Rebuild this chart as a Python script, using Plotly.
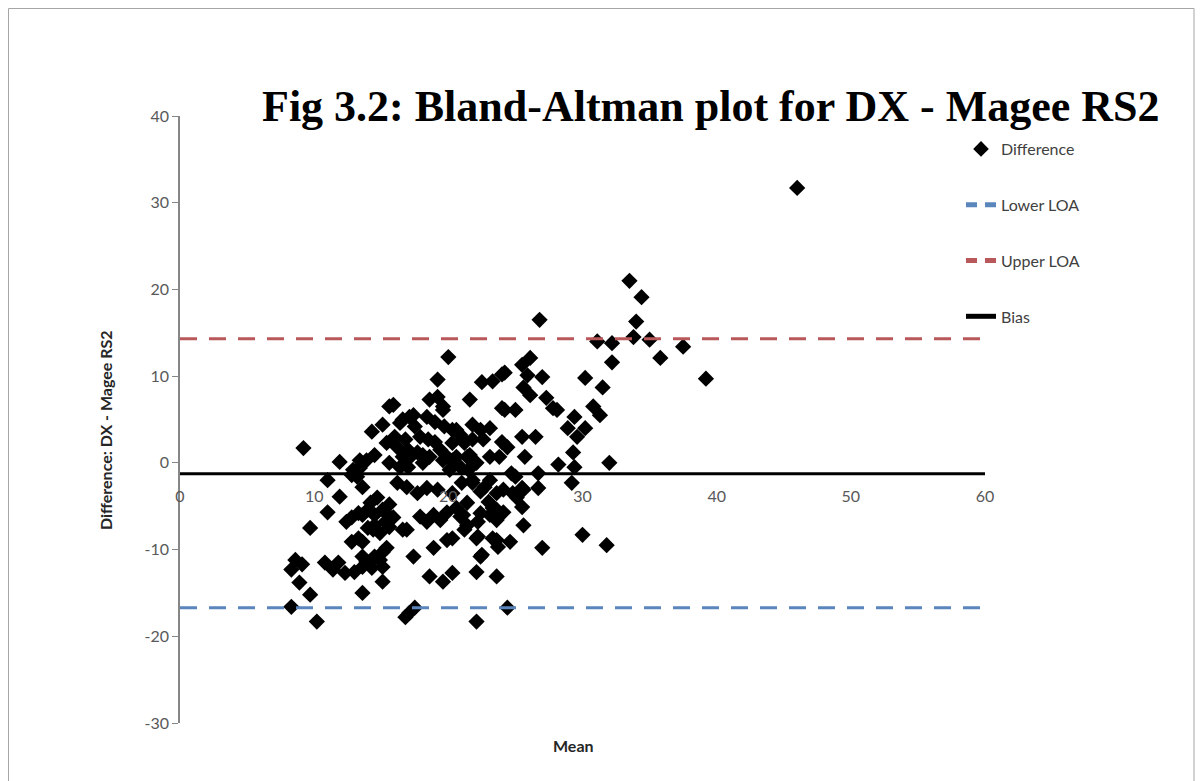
import plotly.graph_objects as go

# Bland-Altman data
mean_vals = [
    46.0, 33.5, 34.4, 34.0, 33.8, 35.0, 35.8, 37.5, 39.2, 31.1, 32.2, 32.2, 26.8, 26.1, 25.5, 25.9,
    27.0, 30.2, 31.5, 25.6, 26.1, 27.3, 27.8, 30.8, 31.3, 25.0, 29.4, 28.9, 30.2, 29.6, 25.5, 26.5,
    29.3, 25.7, 28.2, 29.4, 32.0, 26.7, 29.2, 25.0, 26.7, 25.5, 24.4, 24.2, 24.2, 25.5, 25.6, 24.6,
    27.0, 30.0, 31.8, 24.4,
    22.5, 23.3, 24.0, 21.6, 24.0, 28.1, 21.8, 23.1, 22.6, 24.0, 21.4, 24.7, 21.8, 23.1, 22.4, 23.6,
    24.8, 25.6, 21.4, 23.0, 23.6, 25.1, 20.9, 22.4, 23.6, 21.2, 22.1, 23.3, 22.4, 22.1, 23.6,
    20.0, 19.2, 15.9, 18.6, 19.2, 19.6, 17.1, 16.4, 17.5, 18.4, 19.0, 19.7, 20.3, 22.4, 16.0, 16.8,
    17.9, 18.5, 19.0, 19.4, 20.3, 20.9, 21.2, 21.8, 16.2, 17.0, 17.1, 18.1, 18.1, 19.9, 20.3, 20.9,
    20.1, 21.6, 22.1, 21.5, 23.1, 23.8, 15.6, 16.4, 17.0, 16.2, 16.9, 17.7, 18.4, 19.2, 20.3, 21.0,
    21.8, 22.7, 24.1,
    15.9, 16.9, 17.9, 18.4, 18.9, 19.4, 19.9, 20.6, 21.1, 21.4, 22.2, 23.1, 23.3, 24.1, 18.9, 20.3,
    19.9, 22.2, 22.5, 23.6, 23.7, 17.4, 18.6, 19.6, 20.3, 17.5, 16.8, 17.1, 22.1,
    11.0, 9.7, 12.4, 12.8, 13.3, 13.6, 14.0, 14.5, 15.1, 15.5, 15.3, 14.5, 14.0, 12.8, 13.6, 13.3,
    8.6, 8.3, 9.1, 10.8, 11.4, 11.8, 12.3, 13.0, 13.6, 13.9, 14.5, 15.1, 14.3, 15.1, 15.1, 8.9,
    9.7, 13.6, 8.3, 10.2,
    9.2, 11.9, 11.0, 11.9, 12.8, 13.4, 13.9, 14.5, 13.6, 13.2, 14.3, 15.1, 15.6, 15.9,
    14.2, 14.7, 15.6, 14.4, 14.9, 15.6, 16.6, 13.6, 14.9, 15.4,
    15.4, 16.6, 17.4, 19.6, 20.6, 21.1, 16.6, 17.7, 18.6, 19.6, 20.6, 13.4, 12.9,
]
diff_vals = [
    31.7, 21.0, 19.1, 16.3, 14.5, 14.2, 12.1, 13.4, 9.7, 14.0, 13.8, 11.6, 16.5, 12.1, 11.3, 10.1,
    9.9, 9.8, 8.7, 8.7, 7.8, 7.5, 6.3, 6.5, 5.5, 6.1, 5.3, 4.0, 4.0, 3.0, 3.0, 3.0,
    1.2, 0.7, -0.2, -0.5, 0.0, -1.2, -2.3, -1.6, -2.9, -2.9, 1.8, 10.4, 6.1, -5.1, -7.2, -9.1,
    -9.8, -8.3, -9.5, -16.7,
    9.3, 9.4, 10.2, 7.3, 6.3, 6.1, 4.4, 4.0, 2.7, 2.4, 0.7, -1.2, -2.0, -2.0, -3.3, -3.5,
    -3.5, -3.1, -4.6, -4.5, -5.4, -4.0, -6.2, -5.8, -6.6, -7.7, -8.7, -8.7, -10.8, -12.6, -13.1,
    12.2, 9.6, 6.7, 7.3, 7.6, 6.5, 5.3, 4.6, 4.2, 5.3, 4.7, 4.2, 3.8, 3.8, 3.0, 2.7,
    3.0, 2.7, 2.4, 1.5, 2.3, 3.2, 2.3, 2.7, 1.8, 1.5, 0.6, 0.9, 0.0, 0.7, 0.3, -0.5,
    -0.8, 0.9, 0.0, -0.8, 0.7, 0.7, 0.0, -0.5, -0.5, -2.3, -2.8, -3.5, -2.9, -3.1, -3.5, -2.3,
    -2.3, -2.8, -3.1,
    -6.3, -7.7, -6.2, -6.8, -6.0, -6.6, -5.7, -5.2, -6.0, -7.2, -6.8, -6.0, -5.2, -5.7, -9.8, -8.7,
    -8.9, -8.5, -10.6, -8.9, -9.7, -10.8, -13.1, -13.7, -12.7, -16.7, -17.8, -17.3, -18.3,
    -5.7, -7.5, -6.8, -6.3, -5.8, -6.0, -5.4, -6.0, -5.4, -6.0, -6.8, -7.2, -7.5, -9.1, -9.1, -8.7,
    -11.2, -12.3, -11.7, -11.5, -12.3, -11.5, -12.7, -12.6, -12.0, -11.4, -10.8, -10.3, -12.1, -12.0, -13.7, -13.8,
    -15.2, -15.0, -16.6, -18.3,
    1.7, 0.1, -2.0, -3.9, -1.4, -0.6, 0.3, 0.9, -2.8, -1.6, 3.6, 4.4, 6.5, 2.7,
    -4.6, -4.0, -4.8, -7.7, -8.1, -7.4, -7.7, -10.8, -11.2, -9.8,
    2.3, 5.0, 5.5, 6.1, 3.8, 2.7, 0.7, 1.2, 0.7, 0.3, 0.7, 0.3, -0.8,
]

bias = -1.27
upper_loa = 14.3
lower_loa = -16.7
line_x = [0, 60]

x_ticks = [0, 10, 20, 30, 40, 50, 60]
x_ticktext = ["0", "10", "20", "30", "40", "50", "60"]
y_ticks = [-30, -20, -10, 0, 10, 20, 30, 40]
y_ticktext = ["-30", "-20", "-10", "0", "10", "20", "30", "40"]

title_text = "Fig 3.2: Bland-Altman plot for DX - Magee RS2"
x_title = "Mean"
y_title = "Difference: DX - Magee RS2"

BLUE, RED = "#5A86BC", "#B9585A"

# The page body adds an 8px margin; the figure is sized to fit the window.
OFF = 8
W, H = 1203 - OFF, 781 - OFF
L, T = 180 - OFF, 116 - OFF
R = W - (985 - OFF)
B = H - (723 - OFF)
pw, ph = W - L - R, H - T - B


def px(xs):
    """screen x pixel -> paper fraction"""
    return (xs - OFF - L) / pw


def py(ys):
    """screen y pixel -> paper fraction"""
    return (H - B - (ys - OFF)) / ph


fig = go.Figure()
fig.add_trace(go.Scatter(
    x=mean_vals, y=diff_vals, mode="markers", name="Difference", legendgroup="a",
    legendrank=1,
    marker=dict(symbol="diamond", color="black", size=12.5, line=dict(width=0)),
))
fig.add_trace(go.Scatter(
    x=line_x, y=[lower_loa, lower_loa], mode="lines", name="Lower LOA", legendgroup="b",
    showlegend=False, line=dict(color=BLUE, width=3, dash="17px,12px"),
))
fig.add_trace(go.Scatter(
    x=line_x, y=[upper_loa, upper_loa], mode="lines", name="Upper LOA", legendgroup="c",
    showlegend=False, line=dict(color=RED, width=3, dash="17px,12px"),
))
fig.add_trace(go.Scatter(
    x=line_x, y=[bias, bias], mode="lines", name="Bias", legendgroup="d",
    legendrank=4, line=dict(color="black", width=3),
))
# legend entries for the dashed lines (shorter dash so two dashes show in the key)
fig.add_trace(go.Scatter(
    x=[None], y=[None], mode="lines", name="Lower LOA", legendgroup="b",
    legendrank=2, line=dict(color=BLUE, width=3, dash="11px,8px"),
))
fig.add_trace(go.Scatter(
    x=[None], y=[None], mode="lines", name="Upper LOA", legendgroup="c",
    legendrank=3, line=dict(color=RED, width=3, dash="11px,8px"),
))

axis_font = dict(family="Lato, Carlito, Liberation Sans", size=16, color="#595959")
label_font = dict(family="Lato, Carlito, Liberation Sans", size=16, color="#262626")

fig.update_layout(
    width=W, height=H,
    margin=dict(l=L, r=R, t=T, b=B, autoexpand=False),
    paper_bgcolor="white", plot_bgcolor="white",
    showlegend=True,
    legend=dict(
        xref="container", yref="container", x=(961 - OFF) / W, y=1 - (132 - OFF) / H,
        xanchor="left", yanchor="top", traceorder="grouped", tracegroupgap=32,
        font=dict(family="Lato, Carlito, Liberation Sans", size=16, color="#404040"),
        bgcolor="rgba(0,0,0,0)", itemsizing="constant",
    ),
    xaxis=dict(
        range=[0, 60], tickvals=x_ticks, ticktext=x_ticktext, showgrid=False, zeroline=False,
        showline=False, ticks="", anchor="free", position=30 / 70,
        tickfont=axis_font, ticklabelstandoff=22,
    ),
    yaxis=dict(
        range=[-30, 40], tickvals=y_ticks, ticktext=y_ticktext, showgrid=False, zeroline=False,
        showline=True, linecolor="#868686", linewidth=1.5, ticks="outside",
        ticklen=6, tickcolor="#868686", tickfont=axis_font,
    ),
    annotations=[
        dict(text="<b>" + title_text + "</b>", xref="paper", yref="paper",
             x=px(710), y=py(106), xanchor="center", yanchor="middle", showarrow=False,
             font=dict(family="Liberation Serif, Times New Roman", size=44, color="black")),
        dict(text="<b>" + x_title + "</b>", xref="paper", yref="paper",
             x=px(573), y=py(745), xanchor="center", yanchor="middle", showarrow=False,
             font=label_font),
        dict(text="<b>" + y_title + "</b>", xref="paper", yref="paper",
             x=px(105), y=py(430), xanchor="center", yanchor="middle", showarrow=False,
             textangle=-90, font=label_font),
    ],
    shapes=[
        dict(type="rect", xref="paper", yref="paper",
             x0=px(8.5), x1=px(1194), y0=py(800), y1=py(8.5),
             line=dict(color="#A6A6A6", width=1), fillcolor="rgba(0,0,0,0)", layer="below"),
    ],
)

fig.write_html("out.html")
